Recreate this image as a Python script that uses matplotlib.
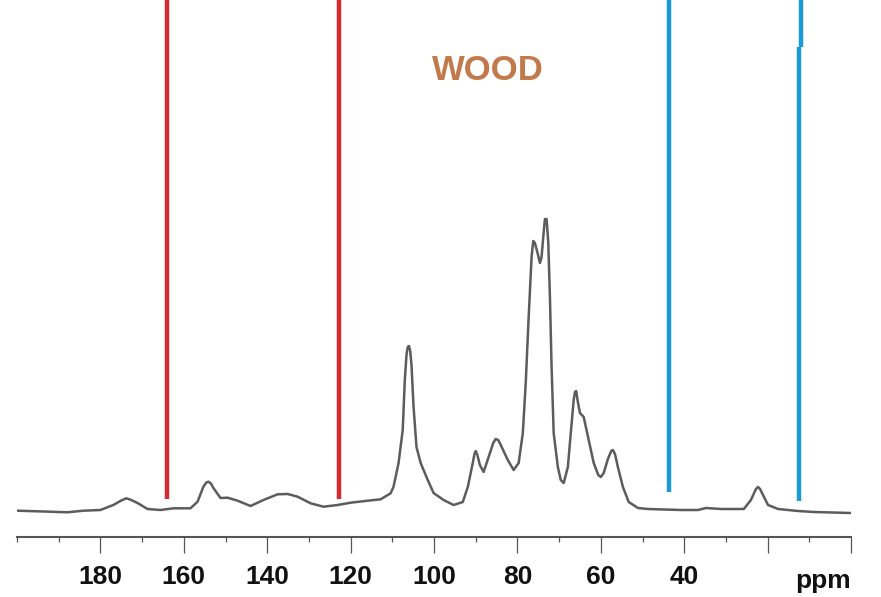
import matplotlib
matplotlib.use("Agg")
import matplotlib.pyplot as plt
from matplotlib.ticker import MultipleLocator

# ── Spectrum (ppm, intensity) ─────────────────────────────────────────────
ppm = [199.9, 192.0, 187.9, 184.1, 180.0, 176.9, 175.0, 173.8, 172.6, 171.1,
       168.7, 165.6, 162.5, 158.4, 156.7, 155.3, 154.6, 154.1, 153.5, 152.9,
       151.2, 149.5, 147.1, 144.0, 140.9, 137.5, 135.1, 132.7, 129.6, 126.5,
       123.1, 120.0, 115.9, 112.8, 110.4, 109.7, 108.5, 107.5, 107.0, 106.6,
       106.3, 106.0, 105.7, 105.4, 104.9, 104.2, 103.2, 101.5, 100.1, 97.7,
       95.3, 93.1, 91.9, 90.7, 90.3, 90.0, 89.6, 89.0, 88.1, 86.9,
       85.8, 85.2, 84.6, 84.0, 82.3, 80.9, 79.7, 78.7, 78.0, 77.3,
       76.6, 76.2, 75.8, 75.1, 74.6, 74.2, 73.8, 73.4, 73.0, 72.6,
       72.2, 71.8, 71.3, 70.3, 69.6, 68.9, 67.9, 67.2, 66.5, 66.2,
       65.9, 65.5, 65.0, 64.1, 62.9, 61.7, 60.6, 60.0, 59.3, 58.3,
       57.5, 57.1, 56.6, 55.9, 54.7, 53.3, 51.1, 48.7, 40.8, 36.7,
       34.8, 31.2, 25.7, 24.0, 22.8, 22.3, 21.8, 21.1, 19.9, 17.5,
       12.7, 8.9, 0.0]
intensity = [26.3, 25.3, 24.7, 26.3, 27, 32, 36.5, 38.7, 37, 34,
             28, 27, 28.7, 28.7, 35.3, 50.3, 54.5, 55.3, 53.5, 49,
             39, 39.3, 36.3, 31, 37, 42.7, 43, 40.3, 33.7, 30.3,
             32, 34.3, 36.3, 37.7, 43.7, 50.3, 74, 107, 157, 182,
             190, 191, 186, 172, 130, 90, 74, 57, 44, 37,
             32, 35, 50, 74, 83, 86, 82, 72, 65, 80,
             94, 98, 97, 92, 77, 67, 74, 104, 154, 220,
             280, 296, 294, 283, 274, 280, 300, 318, 318, 295,
             240, 170, 104, 70, 57, 54, 70, 104, 137, 145,
             146, 135, 124, 120, 97, 74, 62, 60, 64, 78,
             86, 87, 83, 70, 50, 35, 29, 28, 27, 27,
             29, 28, 28, 37, 48, 50, 48, 42, 32, 28,
             26, 25, 24]

# region markers: (ppm, lower end of line)
red_ppm = [164.0, 122.9]
red_bottom = [38, 38]
blue_ppm = [43.7, 12.5]
blue_bottom = [45, 36]

major_ticks = [180, 160, 140, 120, 100, 80, 60, 40, 20, 0]
major_labels = ["180", "160", "140", "120", "100", "80", "60", "40", "", ""]

W, H = 881, 597
fig = plt.figure(figsize=(W / 100, H / 100), dpi=100)
ax = fig.add_axes([17 / W, (H - 537) / H, 834 / W, 537 / H])
ax.set_xlim(200, 0)
ax.set_ylim(0, 537)

ax.plot(ppm, intensity, color="#5c5c5c", lw=1.8,
        solid_joinstyle="round", solid_capstyle="round")

ax.vlines(red_ppm, red_bottom, 537, color="#d42a30", lw=3.2, clip_on=False)
ax.vlines(blue_ppm[0], blue_bottom[0], 537, color="#1a9ad6", lw=3.2, clip_on=False)
# second blue marker has a small jog near the top
ax.vlines(blue_ppm[1], blue_bottom[1], 490, color="#1a9ad6", lw=3.2, clip_on=False)
ax.vlines(blue_ppm[1] - 0.45, 490, 537, color="#1a9ad6", lw=3.2, clip_on=False)

ax.text(87.1, 467, "WOOD", color="#c17a4c", fontsize=25, fontweight="bold",
        family="Liberation Sans", ha="center", va="center")

for s in ["top", "left", "right"]:
    ax.spines[s].set_visible(False)
ax.spines["bottom"].set_color("#555555")
ax.spines["bottom"].set_linewidth(1.5)
ax.set_yticks([])
ax.set_xticks(major_ticks)
ax.set_xticklabels(major_labels, fontsize=19, fontweight="bold",
                   family="Liberation Sans", color="#111111")
ax.xaxis.set_minor_locator(MultipleLocator(10))
ax.tick_params(axis="x", which="major", length=11.5, width=0.9, color="#555555", pad=9)
ax.tick_params(axis="x", which="minor", length=3.5, width=0.9, color="#555555")

ax.text(0, -32 / 537, "ppm", transform=ax.get_xaxis_transform(), ha="right", va="top",
        fontsize=19, fontweight="bold", family="Liberation Sans", color="#111111")

fig.savefig("out.png", dpi=100)
